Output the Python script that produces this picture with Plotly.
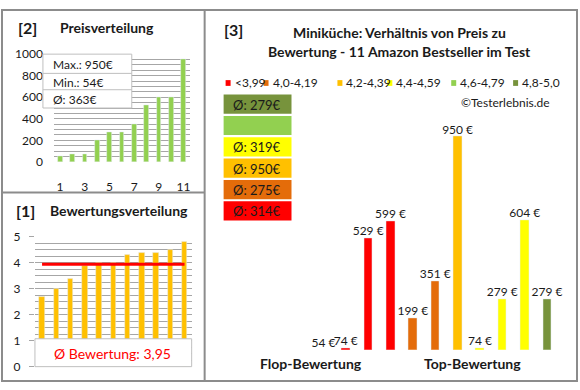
import plotly.graph_objects as go

W, H = 580, 390
FONT = "Lato"
DARK = "#1a1a1a"
GRID = "#A6A6A6"
BORDER = "#8C8C8C"


def px(x):
    return x / W


def py(y):
    return 1 - y / H


# ---------------- data ----------------
products = list(range(1, 12))
prices_sorted = [54, 74, 74, 199, 279, 279, 351, 529, 599, 604, 950]
ratings_sorted = [2.7, 3.0, 3.4, 3.9, 4.0, 4.0, 4.3, 4.4, 4.4, 4.5, 4.8]

group_labels = ["<3,99", "4,0-4,19", "4,2-4,39", "4,4-4,59", "4,6-4,79", "4,8-5,0"]
group_colors = ["#FF0000", "#E46C0A", "#FFC000", "#FFFF00", "#92D050", "#77933C"]
item_prices = [54, 74, 529, 599, 199, 351, 950, 74, 279, 604, 279]
item_groups = [0, 0, 0, 0, 1, 1, 2, 3, 3, 3, 5]

price_ticks = [0, 200, 400, 600, 800, 1000]
product_ticks = [1, 3, 5, 7, 9, 11]
rating_ticks = [0, 1, 2, 3, 4, 5]

# ---------------- derived values ----------------
price_max = max(prices_sorted)
price_min = min(prices_sorted)
price_avg = sum(prices_sorted) / len(prices_sorted)
rating_avg = sum(ratings_sorted) / len(ratings_sorted)

group_avgs = []
for g in range(len(group_labels)):
    vals = [p for p, gg in zip(item_prices, item_groups) if gg == g]
    group_avgs.append(sum(vals) / len(vals) if vals else None)

YMIN3 = 68
YMAX3 = 1084

fig = go.Figure()

# [2] price distribution
fig.add_trace(go.Bar(x=products, y=prices_sorted, marker_color="#92D050",
                     width=0.38, xaxis="x", yaxis="y", showlegend=False))

# [1] rating distribution
fig.add_trace(go.Bar(x=products, y=ratings_sorted, marker_color="#FFC000",
                     width=0.4, xaxis="x2", yaxis="y2", showlegend=False))
fig.add_trace(go.Scatter(x=[products[0], products[-1]], y=[rating_avg, rating_avg],
                         mode="lines", line=dict(color="#FF0000", width=3),
                         xaxis="x2", yaxis="y2", showlegend=False))

# [3] price vs rating
fig.add_trace(go.Bar(x=products, y=item_prices,
                     marker_color=[group_colors[g] for g in item_groups],
                     width=0.38, xaxis="x3", yaxis="y3", showlegend=False))
fig.add_trace(go.Scatter(x=products, y=[max(v, YMIN3) for v in item_prices],
                         mode="text", text=[f"{v} €" for v in item_prices],
                         textposition="top center",
                         textfont=dict(family=FONT, size=12, color=DARK),
                         xaxis="x3", yaxis="y3", showlegend=False, cliponaxis=False))

tickfont = dict(family=FONT, size=12, color=DARK)

layout = dict(
    width=W, height=H,
    margin=dict(l=0, r=0, t=0, b=0),
    paper_bgcolor="white", plot_bgcolor="white",
    font=dict(family=FONT, color=DARK),
    bargap=0,
    xaxis=dict(domain=[px(54), px(190)], range=[0.5, 11.5], tickvals=product_ticks,
               showgrid=False, zeroline=False, showline=False,
               ticks="outside", ticklen=14, tickcolor="rgba(0,0,0,0)",
               tickfont=tickfont, anchor="y"),
    yaxis=dict(domain=[py(160), py(48)], range=[0, 1000], tickvals=price_ticks,
               showgrid=True, gridcolor=GRID, gridwidth=1, zeroline=False,
               minor=dict(dtick=50, showgrid=True, gridcolor=GRID, gridwidth=1),
               ticks="", ticklabelstandoff=10, tickfont=tickfont, anchor="x"),
    xaxis2=dict(domain=[px(35), px(192)], range=[0.5, 11.5], showticklabels=False,
                showgrid=False, zeroline=False, showline=False, anchor="y2"),
    yaxis2=dict(domain=[py(373), py(238)], range=[0, 5], tickvals=rating_ticks,
                showgrid=True, gridcolor=GRID, gridwidth=1, zeroline=False,
                minor=dict(dtick=0.25, showgrid=True, gridcolor=GRID, gridwidth=1),
                ticks="outside", ticklen=5, tickcolor=GRID,
                ticklabelstandoff=6, tickfont=tickfont, anchor="x2"),
    xaxis3=dict(domain=[px(312.8), px(559.2)], range=[0.5, 11.5], visible=False,
                anchor="y3"),
    yaxis3=dict(domain=[py(355.5), py(100)], range=[YMIN3, YMAX3], visible=False,
                anchor="x3"),
)

shapes = []
annotations = []

# panel borders
shapes.append(dict(type="rect", xref="paper", yref="paper", x0=px(2), x1=px(578),
                   y0=py(388), y1=py(2), line=dict(color=BORDER, width=2)))
shapes.append(dict(type="line", xref="paper", yref="paper", x0=px(205), x1=px(205),
                   y0=py(388), y1=py(2), line=dict(color=BORDER, width=2)))
shapes.append(dict(type="line", xref="paper", yref="paper", x0=px(2), x1=px(205),
                   y0=py(192), y1=py(192), line=dict(color=BORDER, width=2)))

# price info box
shapes.append(dict(type="rect", xref="paper", yref="paper", x0=px(43), x1=px(132),
                   y0=py(104), y1=py(48), fillcolor="white",
                   line=dict(color="#BFBFBF", width=1), layer="above"))
for yy in (68, 85):
    shapes.append(dict(type="line", xref="paper", yref="paper", x0=px(43), x1=px(132),
                       y0=py(yy), y1=py(yy), line=dict(color="#BFBFBF", width=1),
                       layer="above"))
info_lines = [f"Max.: {price_max}€", f"Min.: {price_min}€", f"Ø: {round(price_avg)}€"]
for txt, yy in zip(info_lines, (59, 77, 95)):
    annotations.append(dict(xref="paper", yref="paper", x=px(51), y=py(yy),
                            xanchor="left", yanchor="middle", showarrow=False,
                            text=txt, font=dict(family=FONT, size=12, color=DARK)))

# rating average box
shapes.append(dict(type="rect", xref="paper", yref="paper", x0=px(35), x1=px(192),
                   y0=py(373), y1=py(344), fillcolor="white",
                   line=dict(color="#BFBFBF", width=1), layer="above"))
annotations.append(dict(xref="paper", yref="paper", x=px(113), y=py(359),
                        xanchor="center", yanchor="middle", showarrow=False,
                        text=f"Ø Bewertung: {rating_avg:.2f}".replace(".", ","),
                        font=dict(family=FONT, size=14, color="#FF0000")))

# panel titles
annotations += [
    dict(xref="paper", yref="paper", x=px(16), y=py(20), xanchor="left", yanchor="middle",
         showarrow=False, text="<b>[2]</b>", font=dict(family=FONT, size=16, color=DARK)),
    dict(xref="paper", yref="paper", x=px(58), y=py(20), xanchor="left", yanchor="middle",
         showarrow=False, text="<b>Preisverteilung</b>",
         font=dict(family=FONT, size=14, color=DARK)),
    dict(xref="paper", yref="paper", x=px(14), y=py(211), xanchor="left", yanchor="middle",
         showarrow=False, text="<b>[1]</b>", font=dict(family=FONT, size=16, color=DARK)),
    dict(xref="paper", yref="paper", x=px(48), y=py(211), xanchor="left", yanchor="middle",
         showarrow=False, text="<b>Bewertungsverteilung</b>",
         font=dict(family=FONT, size=14, color=DARK)),
    dict(xref="paper", yref="paper", x=px(222), y=py(22), xanchor="left", yanchor="middle",
         showarrow=False, text="<b>[3]</b>", font=dict(family=FONT, size=16, color=DARK)),
    dict(xref="paper", yref="paper", x=px(400), y=py(26), xanchor="center", yanchor="middle",
         showarrow=False, text="<b>Miniküche: Verhältnis von Preis zu</b>",
         font=dict(family=FONT, size=14, color=DARK)),
    dict(xref="paper", yref="paper", x=px(400), y=py(45), xanchor="center", yanchor="middle",
         showarrow=False, text="<b>Bewertung - 11 Amazon Bestseller im Test</b>",
         font=dict(family=FONT, size=14, color=DARK)),
    dict(xref="paper", yref="paper", x=px(553), y=py(98), xanchor="right", yanchor="middle",
         showarrow=False, text="©Testerlebnis.de",
         font=dict(family=FONT, size=12, color=DARK)),
    dict(xref="paper", yref="paper", x=px(312), y=py(370), xanchor="center", yanchor="middle",
         showarrow=False, text="<b>Flop-Bewertung</b>",
         font=dict(family=FONT, size=14, color=DARK)),
    dict(xref="paper", yref="paper", x=px(473), y=py(370), xanchor="center", yanchor="middle",
         showarrow=False, text="<b>Top-Bewertung</b>",
         font=dict(family=FONT, size=14, color=DARK)),
]

# colour legend row
LEGEND_X = [226, 264, 338, 388, 452, 514]
for lbl, col, lx in zip(group_labels, group_colors, LEGEND_X):
    shapes.append(dict(type="rect", xref="paper", yref="paper", x0=px(lx), x1=px(lx + 5),
                       y0=py(81), y1=py(75), fillcolor=col, line=dict(width=0)))
    annotations.append(dict(xref="paper", yref="paper", x=px(lx + 7), y=py(78),
                            xanchor="left", yanchor="middle", showarrow=False, text=lbl,
                            font=dict(family=FONT, size=12, color=DARK)))

# group average boxes (best group on top)
BOX_TOP = 90
BOX_PITCH = 22.2
for i, g in enumerate(reversed(range(len(group_labels)))):
    top = BOX_TOP + i * BOX_PITCH
    shapes.append(dict(type="rect", xref="paper", yref="paper", x0=px(224), x1=px(292),
                       y0=py(top + 20), y1=py(top), fillcolor=group_colors[g],
                       line=dict(width=0)))
    if group_avgs[g] is not None:
        annotations.append(dict(xref="paper", yref="paper", x=px(257), y=py(top + 10.5),
                                xanchor="center", yanchor="middle", showarrow=False,
                                text=f"Ø: {round(group_avgs[g])}€",
                                font=dict(family=FONT, size=13, color=DARK)))

layout["shapes"] = shapes
layout["annotations"] = annotations
fig.update_layout(**layout)
fig.write_html("out.html", config={"displayModeBar": False},
               post_script="document.body.style.margin='0';document.body.style.overflow='hidden';")
